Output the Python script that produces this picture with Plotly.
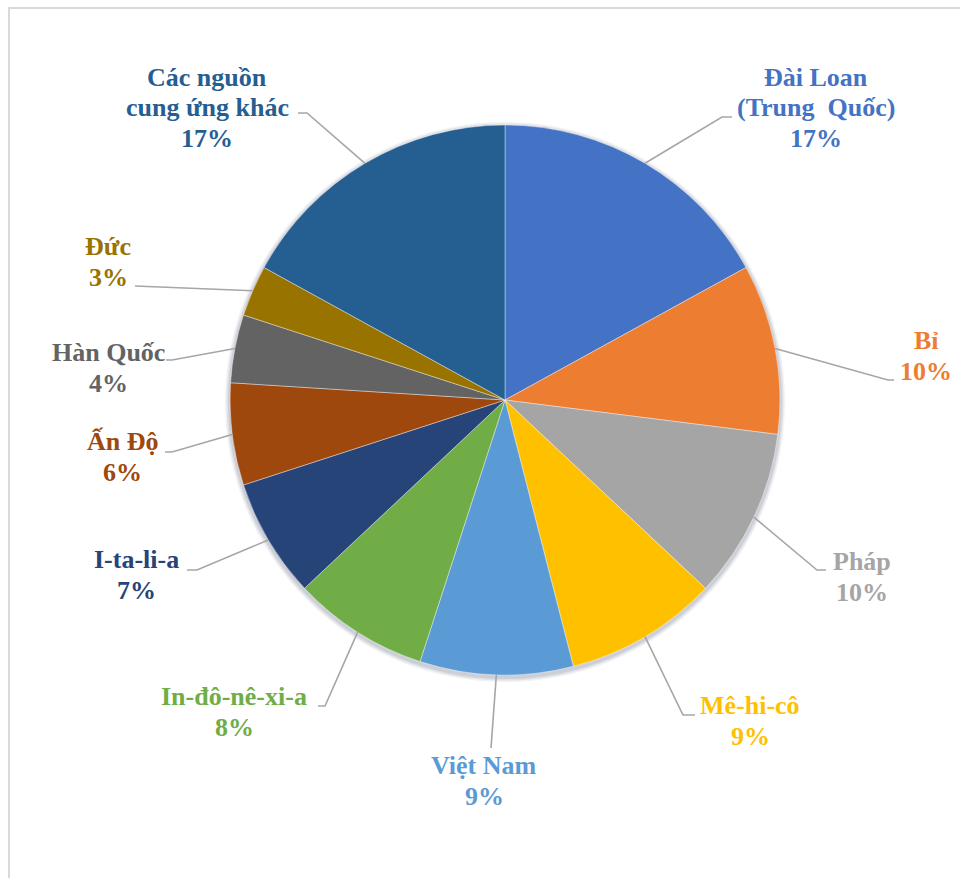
import math
import plotly.graph_objects as go

# Supplier shares (%), clockwise from 12 o'clock
labels = [
    "Đài Loan<br>(Trung  Quốc)", "Bỉ", "Pháp", "Mê-hi-cô", "Việt Nam",
    "In-đô-nê-xi-a", "I-ta-li-a", "Ấn Độ", "Hàn Quốc", "Đức",
    "Các nguồn<br>cung ứng khác",
]
shares = [17, 10, 10, 9, 9, 8, 7, 6, 4, 3, 17]
slice_colors = [
    "#4472C4", "#ED7D31", "#A5A5A5", "#FFC000", "#5B9BD5", "#70AD47",
    "#264478", "#9E480E", "#636363", "#997300", "#255E91",
]
text_colors = list(slice_colors)

W, H = 960, 878
CX, CY, R = 505, 400, 275
FONT = "Liberation Serif"
FONT_SIZE = 26
LINE_STEP = 30.5

# Label block centre (px) and elbow of the leader line (px), per slice
label_xy = [(816, 108), (926, 356), (862, 577), (750, 721), (484, 781),
            (234, 712), (136, 575), (123, 457), (108, 368), (108, 262),
            (207, 108)]
elbow_xy = [(722, 117), (888, 380), (817, 570), (683, 715), (491, 748),
            (325, 706), (197, 570), (172, 452), (172, 360), (135, 286),
            (307, 113)]
stub_len = [10, 6, 9, 12, 0, -7, -10, -7, -6, 0, -9]


def px(x, y):
    return x / W, 1 - y / H


fig = go.Figure(go.Pie(
    labels=labels,
    values=shares,
    sort=False,
    direction="clockwise",
    rotation=0,
    marker=dict(colors=slice_colors, line=dict(color="white", width=0.4)),
    textinfo="none",
    hoverinfo="label+percent",
    domain=dict(x=[(CX - R) / W, (CX + R) / W], y=[1 - (CY + R) / H, 1 - (CY - R) / H]),
    showlegend=False,
))

shapes = []

# Chart area frame
fx0, fy0 = px(9, 8)
shapes.append(dict(type="rect", xref="paper", yref="paper",
                   x0=fx0, y0=-0.2, x1=1.2, y1=fy0,
                   line=dict(color="#D9D9D9", width=2), layer="below"))

# Soft shadow under the pie
for grow, alpha in [(5, 0.10), (3.5, 0.14), (2, 0.18)]:
    sx0, sy0 = px(CX - R - grow, CY - R - grow + 2)
    sx1, sy1 = px(CX + R + grow, CY + R + grow + 2)
    shapes.append(dict(type="circle", xref="paper", yref="paper",
                       x0=sx0, y0=sy1, x1=sx1, y1=sy0,
                       fillcolor=f"rgba(120,130,150,{alpha})",
                       line=dict(width=0), layer="below"))

annotations = []
total = sum(shares)
cum = 0
for i, v in enumerate(shares):
    mid = (cum + v / 2) / total * 2 * math.pi
    cum += v
    ex, ey = CX + R * math.sin(mid), CY - R * math.cos(mid)
    bx, by = elbow_xy[i]
    sx = bx + stub_len[i]
    x0, y0 = px(ex, ey)
    x1, y1 = px(bx, by)
    x2, y2 = px(sx, by)
    shapes.append(dict(
        type="path", xref="paper", yref="paper",
        path=f"M {x0} {y0} L {x1} {y1} L {x2} {y2}",
        line=dict(color="#A6A6A6", width=1.6),
    ))
    lines = labels[i].split("<br>") + [f"{v}%"]
    cx, cy = label_xy[i]
    n = len(lines)
    for k, line in enumerate(lines):
        lx, ly = px(cx, cy + (k - (n - 1) / 2) * LINE_STEP)
        annotations.append(dict(
            x=lx, y=ly, xref="paper", yref="paper",
            text=f"<b>{line}</b>",
            showarrow=False, xanchor="center", yanchor="middle",
            align="center",
            font=dict(family=FONT, size=FONT_SIZE, color=text_colors[i]),
        ))

fig.update_layout(
    width=W, height=H,
    margin=dict(l=0, r=0, t=0, b=0),
    paper_bgcolor="white",
    plot_bgcolor="white",
    shapes=shapes,
    annotations=annotations,
)

fig.write_html("out.html")
